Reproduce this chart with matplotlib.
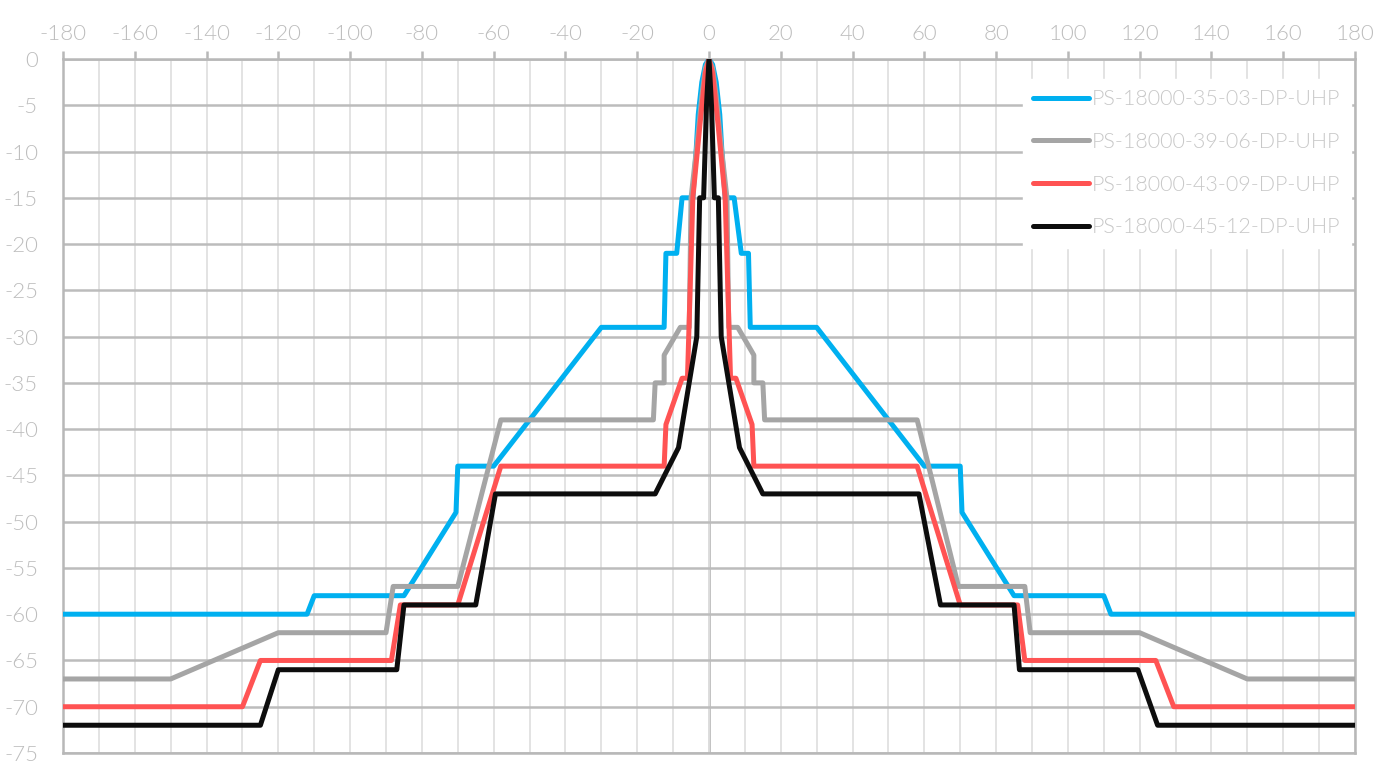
import matplotlib
matplotlib.use('Agg')
import matplotlib.pyplot as plt
from matplotlib.ticker import MultipleLocator

plt.rcParams['font.family'] = ['Lato', 'DejaVu Sans']
plt.rcParams['axes.unicode_minus'] = False

# angle (deg) / level (dB)
x_35 = [-180, -112, -110, -85, -70.5, -70, -60, -30, -12.5, -12, -9, -7.5, -4.5, -3.6, -3, -2, -1, 0,
        1, 2, 3, 3.6, 4.5, 7, 9, 11, 11.5, 30, 60, 70, 70.5, 85, 110, 112, 180]
y_35 = [-60, -60, -58, -58, -49, -44, -44, -29, -29, -21, -21, -15, -15, -10, -6, -2.5, -0.6, 0,
        -0.6, -2.5, -6, -10, -15, -15, -21, -21, -29, -29, -44, -44, -49, -58, -58, -60, -60]

x_39 = [-180, -150, -120, -90, -88, -70, -58, -15.5, -15, -12.5, -12.5, -8, -5.5, -5, -3, -2, -1, 0,
        1, 2, 3, 5, 5.5, 8, 12.5, 12.5, 15, 15.5, 58, 69.5, 88, 89.5, 120, 150, 180]
y_39 = [-67, -67, -62, -62, -57, -57, -39, -39, -35, -35, -32, -29, -29, -15, -8, -4, -1, 0,
        -1, -4, -8, -15, -29, -29, -32, -35, -35, -39, -39, -57, -57, -62, -62, -67, -67]

x_43 = [-180, -130, -125, -88.5, -86, -70, -58, -12.5, -12, -7.5, -6, -4.5, -2.5, -1, 0,
        1, 2.5, 4.5, 6, 7.5, 12, 12.5, 58, 70, 86, 88, 124.5, 129.5, 180]
y_43 = [-70, -70, -65, -65, -59, -59, -44, -44, -39.5, -34.5, -34.5, -15, -7, -1.5, 0,
        -1.5, -7, -15, -34.5, -34.5, -39.5, -44, -44, -59, -59, -65, -65, -70, -70]

x_45 = [-180, -125, -120, -87, -85, -65, -59.5, -15, -8.5, -3.4, -2.6, -1.5, -0.7, 0,
        0.7, 1.5, 2.6, 3.4, 8.5, 15, 58.5, 64.5, 85, 86.5, 119.5, 125, 180]
y_45 = [-72, -72, -66, -66, -59, -59, -47, -47, -42, -30, -15, -15, -5, 0,
        -5, -15, -15, -30, -42, -47, -47, -59, -59, -66, -66, -72, -72]

names = ['PS-18000-35-03-DP-UHP', 'PS-18000-39-06-DP-UHP',
         'PS-18000-43-09-DP-UHP', 'PS-18000-45-12-DP-UHP']
colors = ['#00B0F0', '#A5A5A5', '#FF5353', '#0D0D0D']

fig = plt.figure(figsize=(13.75, 7.65), dpi=100)
ax = fig.add_axes([63 / 1375, 12 / 765, 1292 / 1375, 694 / 765])

series = [(x_35, y_35), (x_39, y_39), (x_43, y_43), (x_45, y_45)]
for (xs, ys), name, c in zip(series, names, colors):
    ax.plot(xs, ys, color=c, lw=3.6, label=name, solid_joinstyle='round',
            solid_capstyle='round', zorder=3)

ax.set_xlim(-180, 180)
ax.set_ylim(-75, 0)
ax.xaxis.tick_top()
ax.xaxis.set_major_locator(MultipleLocator(20))
ax.xaxis.set_minor_locator(MultipleLocator(10))
ax.yaxis.set_major_locator(MultipleLocator(5))

ax.grid(which='both', axis='x', color='#E0E0E0', lw=1.3, zorder=0)
ax.grid(which='major', axis='y', color='#BCBCBC', lw=1.8, zorder=1)
ax.axvline(0, color='#B0B0B0', lw=1.8, zorder=1)

for s in ax.spines.values():
    s.set_color('#B8B8B8')
    s.set_linewidth(1.8)

ax.tick_params(axis='x', which='major', length=6, width=1.8, color='#B8B8B8',
               labelcolor='#BDBDBD', labelsize=16, pad=5)
ax.tick_params(axis='x', which='minor', length=0)
ax.tick_params(axis='y', length=0, labelcolor='#BDBDBD', labelsize=16, pad=18)
for lab in ax.get_xticklabels() + ax.get_yticklabels():
    lab.set_fontweight(300)

leg = ax.legend(loc='upper right', bbox_to_anchor=(1.0, 0.978), fontsize=15.5,
                frameon=True, fancybox=False, edgecolor='white', framealpha=1,
                handlelength=2.6, handletextpad=0.1, labelspacing=1.05,
                borderpad=0.5, borderaxespad=0.2)
for t in leg.get_texts():
    t.set_color('#C8C8C8')
    t.set_fontweight(300)
leg.set_zorder(5)

fig.savefig('out.png', dpi=100)
